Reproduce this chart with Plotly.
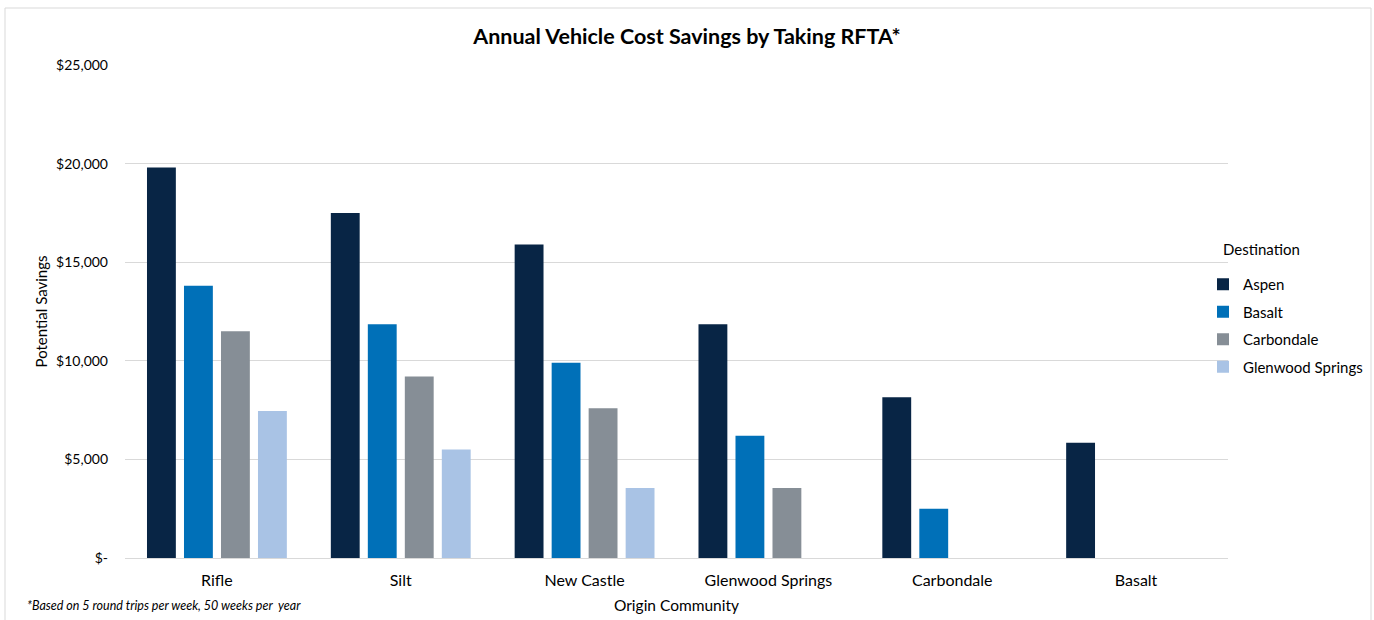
import plotly.graph_objects as go

origins = ["Rifle", "Silt", "New Castle", "Glenwood Springs", "Carbondale", "Basalt"]
aspen = [19800, 17500, 15900, 11850, 8150, 5850]
basalt = [13800, 11850, 9900, 6200, 2500, None]
carbondale = [11500, 9200, 7600, 3550, None, None]
glenwood = [7450, 5500, 3550, None, None, None]
series_names = ["Aspen", "Basalt", "Carbondale", "Glenwood Springs"]
colors = ["#082545", "#0070b8", "#868e96", "#a9c3e5"]
tick_vals = [0, 5000, 10000, 15000, 20000, 25000]
tick_text = ["$-", "$5,000", "$10,000", "$15,000", "$20,000", "$25,000"]

FONT = "Lato, 'Open Sans', sans-serif"

fig = go.Figure()
for name, vals, col in zip(series_names, [aspen, basalt, carbondale, glenwood], colors):
    fig.add_trace(go.Bar(x=origins, y=vals, name=name, legendgroup=name,
                         marker=dict(color=col, line=dict(width=0))))

fig.update_layout(
    width=1374, height=620,
    margin=dict(l=125, r=146, t=65, b=62, autoexpand=False),
    paper_bgcolor="white", plot_bgcolor="white",
    font=dict(family=FONT, color="#000000", size=14),
    title=dict(text="<b>Annual Vehicle Cost Savings by Taking RFTA*</b>", x=0.5, xanchor="center",
               y=1 - 36 / 620, yanchor="middle", font=dict(size=21.5, family=FONT, color="#000")),
    barmode="group", bargap=0.195, bargroupgap=0.22,
    showlegend=True,
    legend=dict(x=(1203 - 125) / 1103, xanchor="left",
                y=(558 - 268) / 493, yanchor="top", font=dict(size=15), tracegroupgap=5,
                itemwidth=30, bgcolor="rgba(0,0,0,0)"),
    xaxis=dict(title=dict(text="Origin Community", font=dict(size=15.5), standoff=11),
               tickfont=dict(size=16), showline=True, linecolor="#d9d9d9", linewidth=1,
               ticks="", ticklen=0, ticklabelstandoff=8),
    yaxis=dict(title=dict(text="Potential Savings", font=dict(size=15), standoff=4),
               range=[0, 25000], tickvals=tick_vals, ticktext=tick_text, tickfont=dict(size=14),
               showgrid=True, gridcolor="#d9d9d9", gridwidth=1, zeroline=False, ticks="", ticklen=0,
               ticklabelstandoff=16),
)

fig.add_annotation(text="Destination", xref="paper", yref="paper",
                   x=(1221 - 125) / 1103, y=(558 - 249) / 493, xanchor="left", yanchor="middle",
                   showarrow=False, font=dict(size=15, family=FONT, color="#000"))

fig.add_annotation(text="<i>*Based on 5 round trips per week, 50 weeks per  year</i>", xref="paper", yref="paper",
                   x=(25 - 125) / 1103, y=(558 - 605) / 493, xanchor="left", yanchor="middle",
                   showarrow=False, font=dict(size=12.5, family=FONT, color="#000"))

fig.add_shape(type="rect", xref="paper", yref="paper",
              x0=(5 - 125) / 1103, x1=(1371 - 125) / 1103, y0=(558 - 640) / 493, y1=(558 - 8) / 493,
              line=dict(color="#d9d9d9", width=1), fillcolor="rgba(0,0,0,0)", layer="below")

fig.write_html("out.html")
